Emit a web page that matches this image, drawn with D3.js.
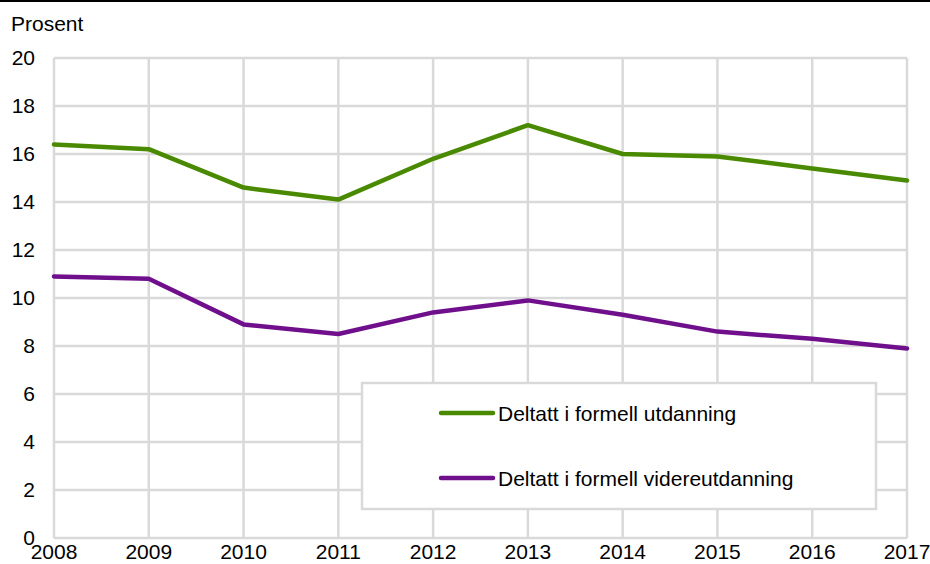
<!DOCTYPE html>
<html>
<head>
<meta charset="utf-8">
<script src="https://cdn.jsdelivr.net/npm/d3@7"></script>
<style>
  body { margin: 0; background: #fff; }
  svg { display: block; font-family: "Liberation Sans", Arial, sans-serif; }
</style>
</head>
<body>
<div id="chart"></div>
<script>
var width = 930,
    height = 564;
var fontSize = "21px";

// data
var years = [2008, 2009, 2010, 2011, 2012, 2013, 2014, 2015, 2016, 2017];
var utdanning = [16.4, 16.2, 14.6, 14.1, 15.8, 17.2, 16.0, 15.9, 15.4, 14.9];
var videreutdanning = [10.9, 10.8, 8.9, 8.5, 9.4, 9.9, 9.3, 8.6, 8.3, 7.9];
var seriesNames = ["Deltatt i formell utdanning", "Deltatt i formell videreutdanning"];
var yTicks = [0, 2, 4, 6, 8, 10, 12, 14, 16, 18, 20];

var colors = ["#4a8a00", "#700f8c"];
var gridColor = "#d9d9d9";

var x = d3.scaleLinear()
  .domain([2008, 2017])
  .range([54, 907]);

var y = d3.scaleLinear()
  .domain([0, 20])
  .range([538, 58]);

var svg = d3.select("#chart")
  .append("svg")
    .attr("width", width)
    .attr("height", height);

// black rule at the top
svg.append("line")
  .attr("x1", 0).attr("x2", width)
  .attr("y1", 1).attr("y2", 1)
  .attr("stroke", "#000")
  .attr("stroke-width", 2);

// grid
svg.append("g").selectAll("line")
  .data(yTicks)
  .enter().append("line")
    .attr("x1", x(2008)).attr("x2", x(2017))
    .attr("y1", function(d) { return y(d); })
    .attr("y2", function(d) { return y(d); })
    .attr("stroke", gridColor)
    .attr("stroke-width", 2.5);

svg.append("g").selectAll("line")
  .data(years)
  .enter().append("line")
    .attr("x1", function(d) { return x(d); })
    .attr("x2", function(d) { return x(d); })
    .attr("y1", y(20)).attr("y2", y(0))
    .attr("stroke", gridColor)
    .attr("stroke-width", 2.5);

// y tick labels
svg.append("g").selectAll("text")
  .data(yTicks)
  .enter().append("text")
    .attr("x", 35)
    .attr("y", function(d) { return y(d) + 7; })
    .attr("text-anchor", "end")
    .style("font-size", fontSize)
    .attr("fill", "#000")
    .text(function(d) { return d; });

// x tick labels
svg.append("g").selectAll("text")
  .data(years)
  .enter().append("text")
    .attr("x", function(d) { return x(d); })
    .attr("y", 559)
    .attr("text-anchor", "middle")
    .style("font-size", fontSize)
    .attr("fill", "#000")
    .text(function(d) { return d; });

svg.append("text")
  .attr("x", 11)
  .attr("y", 31)
  .style("font-size", fontSize)
  .attr("fill", "#000")
  .text("Prosent");

// lines
var line = d3.line()
  .x(function(d, i) { return x(years[i]); })
  .y(function(d) { return y(d); });

[utdanning, videreutdanning].forEach(function(s, i) {
  svg.append("path")
    .datum(s)
    .attr("d", line)
    .attr("fill", "none")
    .attr("stroke", colors[i])
    .attr("stroke-width", 4.5)
    .attr("stroke-linecap", "round")
    .attr("stroke-linejoin", "round");
});

// legend
var legendBox = svg.append("g");
legendBox.append("rect")
  .attr("x", 362)
  .attr("y", 383)
  .attr("width", 514)
  .attr("height", 126)
  .attr("fill", "#fff")
  .attr("stroke", gridColor)
  .attr("stroke-width", 2.5);

var legend = legendBox.selectAll(".legend")
  .data(seriesNames)
  .enter().append("g")
    .attr("class", "legend")
    .attr("transform", function(d, i) { return "translate(0," + (413 + i * 65) + ")"; });

legend.append("line")
  .attr("x1", 441).attr("x2", 493)
  .attr("y1", 0).attr("y2", 0)
  .attr("stroke", function(d, i) { return colors[i]; })
  .attr("stroke-width", 4.5)
  .attr("stroke-linecap", "round");

legend.append("text")
  .attr("x", 498)
  .attr("y", 8)
  .style("font-size", fontSize)
  .attr("fill", "#000")
  .text(function(d) { return d; });
</script>
</body>
</html>
